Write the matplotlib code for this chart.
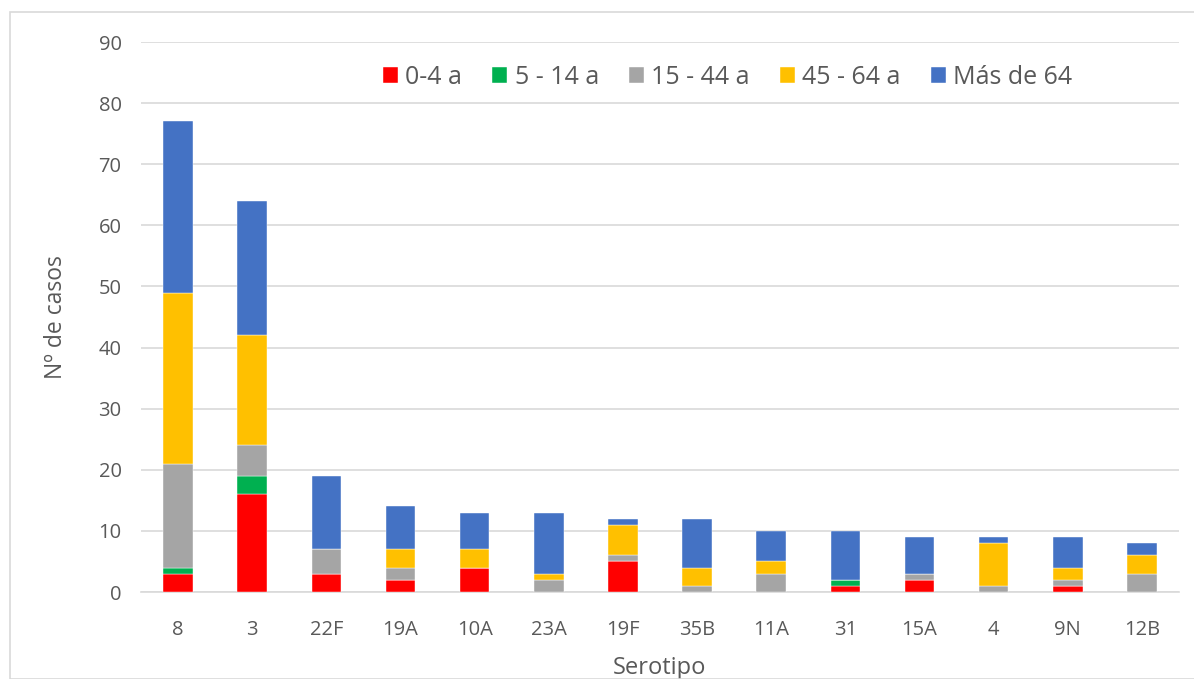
import numpy as np
import matplotlib
matplotlib.use('Agg')
import matplotlib.pyplot as plt
from matplotlib.patches import Rectangle

# datos
serotipos = ['8', '3', '22F', '19A', '10A', '23A', '19F', '35B', '11A', '31', '15A', '4', '9N', '12B']
edad_0_4 = [3, 16, 3, 2, 4, 0, 5, 0, 0, 1, 2, 0, 1, 0]
edad_5_14 = [1, 3, 0, 0, 0, 0, 0, 0, 0, 1, 0, 0, 0, 0]
edad_15_44 = [17, 5, 4, 2, 0, 2, 1, 1, 3, 0, 1, 1, 1, 3]
edad_45_64 = [28, 18, 0, 3, 3, 1, 5, 3, 2, 0, 0, 7, 2, 3]
edad_mas_64 = [28, 22, 12, 7, 6, 10, 1, 8, 5, 8, 6, 1, 5, 2]

series = [edad_0_4, edad_5_14, edad_15_44, edad_45_64, edad_mas_64]
nombres = ['0-4 a', '5 - 14 a', '15 - 44 a', '45 - 64 a', 'Más de 64']
colores = ['#FF0000', '#00B050', '#A5A5A5', '#FFC000', '#4472C4']

plt.rcParams['font.family'] = ['Open Sans', 'DejaVu Sans']
gris = '#595959'

fig = plt.figure(figsize=(11.94, 6.79), dpi=100)
ax = fig.add_axes([141 / 1194, 1 - 592 / 679, (1179 - 141) / 1194, 550 / 679])

x = np.arange(len(serotipos))
base = np.zeros(len(serotipos))
for vals, nom, col in zip(series, nombres, colores):
    ax.bar(x, vals, width=0.4, bottom=base, color=col, label=nom,
           edgecolor='white', linewidth=0.3, zorder=3)
    base += np.array(vals)

ax.set_xlim(-0.5, len(serotipos) - 0.5)
ax.set_ylim(0, 90)
ax.set_yticks(np.arange(0, 91, 10))
ax.set_xticks(x)
ax.set_xticklabels(serotipos)
ax.grid(axis='y', color='#D9D9D9', linewidth=1.2, zorder=0)
for s in ['top', 'right', 'left']:
    ax.spines[s].set_visible(False)
ax.spines['bottom'].set_color('#D9D9D9')
ax.spines['bottom'].set_linewidth(1.2)
ax.tick_params(axis='both', length=0, colors=gris, labelsize=14.5)
ax.tick_params(axis='x', pad=20)
ax.tick_params(axis='y', pad=14)
ax.set_xlabel('Serotipo', color=gris, fontsize=17, labelpad=12)
ax.set_ylabel('Nº de casos', color=gris, fontsize=16.5, labelpad=22)

leg = ax.legend(loc='upper center', bbox_to_anchor=(0.565, 1.0), ncol=5, frameon=False,
                fontsize=18, handlelength=0.6, handleheight=0.6, handletextpad=0.3,
                columnspacing=1.2, labelcolor=gris)

# borde del gráfico
fig.patches.append(Rectangle((10 / 1194, 0), 1 - 10 / 1194 + 0.01, 1 - 12 / 679,
                             transform=fig.transFigure, fill=False,
                             edgecolor='#D9D9D9', linewidth=1.2))

fig.savefig('out.png', dpi=100)
